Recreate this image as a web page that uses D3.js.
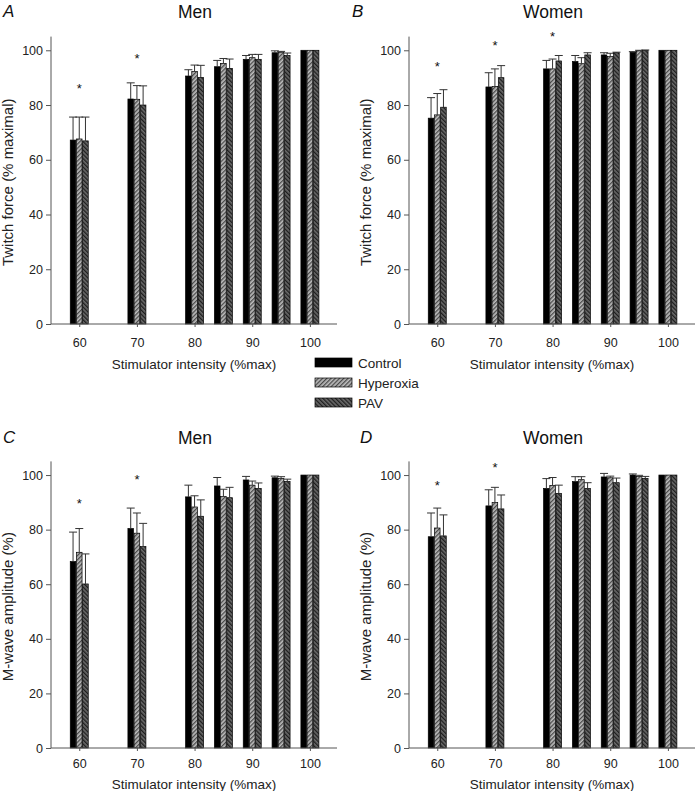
<!DOCTYPE html>
<html>
<head>
<meta charset="utf-8">
<script src="https://cdn.jsdelivr.net/npm/d3@7"></script>
<style>
  html, body { margin: 0; padding: 0; background: #fff; }
  svg { display: block; font-family: "Liberation Sans", Arial, sans-serif; }
</style>
</head>
<body>
<svg id="chart" width="698" height="791"></svg>
<script>
// ---------- DATA ----------
const intensities = [60, 70, 80, 85, 90, 95, 100];
const conditions = ["Control", "Hyperoxia", "PAV"];
const xTickValues = [60, 70, 80, 90, 100];
const yTickValues = [0, 20, 40, 60, 80, 100];

// Panel A: Men, twitch force (% maximal)
const aControl   = [67.2, 82.2, 90.6, 94.0, 96.7, 99.1, 100];
const aControlSD = [8.4, 5.9, 2.3, 2.3, 1.4, 0.7, 0];
const aHyper     = [67.6, 82.1, 92.2, 95.2, 97.3, 99.3, 100];
const aHyperSD   = [8.0, 5.0, 2.4, 1.8, 1.2, 0.3, 0];
const aPAV       = [66.9, 80.0, 90.1, 93.4, 96.7, 98.1, 100];
const aPAVSD     = [8.7, 7.0, 4.4, 3.4, 1.8, 0.9, 0];
const aStarX = [60, 70];
const aStarY = [86.4, 97.3];

// Panel B: Women, twitch force (% maximal)
const bControl   = [75.2, 86.6, 93.2, 95.9, 98.3, 99.3, 100];
const bControlSD = [7.5, 5.2, 3.1, 2.2, 0.8, 0.2, 0];
const bHyper     = [76.4, 86.8, 93.2, 95.1, 97.7, 99.8, 100];
const bHyperSD   = [7.8, 6.4, 3.6, 2.2, 1.2, 0.2, 0];
const bPAV       = [79.2, 90.0, 96.1, 98.3, 99.1, 100, 100];
const bPAVSD     = [6.4, 4.4, 2.0, 0.8, 0.2, 0.1, 0];
const bStarX = [60, 70, 80];
const bStarY = [94.4, 101.9, 105.4];

// Panel C: Men, M-wave amplitude (%)
const cControl   = [68.3, 80.4, 92.0, 96.0, 98.2, 99.0, 100];
const cControlSD = [10.8, 7.5, 4.3, 3.1, 1.3, 0.6, 0];
const cHyper     = [71.7, 78.7, 88.3, 92.1, 96.3, 98.8, 100];
const cHyperSD   = [8.7, 7.4, 4.1, 2.7, 1.5, 0.6, 0];
const cPAV       = [60.1, 73.8, 84.9, 91.7, 95.1, 97.7, 100];
const cPAVSD     = [11.0, 8.5, 6.0, 3.8, 2.0, 0.8, 0];
const cStarX = [60, 70];
const cStarY = [89.6, 98.4];

// Panel D: Women, M-wave amplitude (%)
const dControl   = [77.4, 88.7, 95.1, 97.6, 99.3, 100, 100];
const dControlSD = [8.7, 5.9, 3.6, 1.8, 1.3, 0.4, 0];
const dHyper     = [80.6, 89.9, 96.2, 98.3, 99.0, 99.5, 100];
const dHyperSD   = [7.3, 5.6, 2.9, 1.1, 0.6, 0.4, 0];
const dPAV       = [77.7, 87.6, 93.3, 95.1, 97.2, 98.8, 100];
const dPAVSD     = [7.7, 5.1, 3.0, 2.1, 1.7, 0.7, 0];
const dStarX = [60, 70];
const dStarY = [96.3, 102.8];

// ---------- LAYOUT ----------
const svg = d3.select("#chart");
const defs = svg.append("defs");

function stripePattern(id, bg, fg, angle) {
  const p = defs.append("pattern")
    .attr("id", id).attr("patternUnits", "userSpaceOnUse")
    .attr("width", 3).attr("height", 3)
    .attr("patternTransform", `rotate(${angle})`);
  p.append("rect").attr("width", 3).attr("height", 3).attr("fill", bg);
  p.append("rect").attr("x", 0).attr("width", 1.3).attr("height", 3).attr("fill", fg);
}
stripePattern("hyperPat", "#bdbdbd", "#4a4a4a", 45);
stripePattern("pavPat", "#6a6a6a", "#1e1e1e", -45);

const fills = ["#000", "url(#hyperPat)", "url(#pavPat)"];
const axisColor = "#555";

const panels = [
  { letter: "A", title: "Men",   ylabel: "Twitch force (% maximal)", x0: 51,  x1: 337, yBottom: 324, yTop: 36.6,
    means: [aControl, aHyper, aPAV], sds: [aControlSD, aHyperSD, aPAVSD], starX: aStarX, starY: aStarY,
    letterX: 3, titleY: 18, ylabelX: 13, xTickY: 347, xLabelY: 369 },
  { letter: "B", title: "Women", ylabel: "Twitch force (% maximal)", x0: 409, x1: 695, yBottom: 324, yTop: 36.6,
    means: [bControl, bHyper, bPAV], sds: [bControlSD, bHyperSD, bPAVSD], starX: bStarX, starY: bStarY,
    letterX: 352, titleY: 18, ylabelX: 371, xTickY: 347, xLabelY: 369 },
  { letter: "C", title: "Men",   ylabel: "M-wave amplitude (%)", x0: 51,  x1: 337, yBottom: 748, yTop: 461.4,
    means: [cControl, cHyper, cPAV], sds: [cControlSD, cHyperSD, cPAVSD], starX: cStarX, starY: cStarY,
    letterX: 3, titleY: 444, ylabelX: 13, xTickY: 768, xLabelY: 789 },
  { letter: "D", title: "Women", ylabel: "M-wave amplitude (%)", x0: 409, x1: 695, yBottom: 748, yTop: 461.4,
    means: [dControl, dHyper, dPAV], sds: [dControlSD, dHyperSD, dPAVSD], starX: dStarX, starY: dStarY,
    letterX: 360, titleY: 444, ylabelX: 371, xTickY: 768, xLabelY: 789 }
];

const barW = 5.6, barStep = 6.2, capHalf = 4;

panels.forEach(p => {
  const g = svg.append("g");
  const x = d3.scaleLinear().domain([55.1, 104.7]).range([p.x0, p.x1]);
  const y = d3.scaleLinear().domain([0, 105]).range([p.yBottom, p.yTop]);

  // bars
  conditions.forEach((c, ci) => {
    const off = (ci - 1) * barStep;
    g.append("g").selectAll("rect")
      .data(intensities.map((v, i) => ({ v, m: p.means[ci][i], sd: p.sds[ci][i] })))
      .join("rect")
      .attr("x", d => x(d.v) + off - barW / 2)
      .attr("y", d => y(d.m))
      .attr("width", barW)
      .attr("height", d => y(0) - y(d.m))
      .attr("fill", fills[ci])
      .attr("stroke", "#000")
      .attr("stroke-width", 0.7);

    // error bars
    const eb = g.append("g").attr("stroke", "#333").attr("stroke-width", 1).attr("fill", "none");
    const ed = intensities.map((v, i) => ({ v, m: p.means[ci][i], sd: p.sds[ci][i] })).filter(d => d.sd > 0);
    eb.selectAll("line.v").data(ed).join("line").attr("class", "v")
      .attr("x1", d => x(d.v) + off).attr("x2", d => x(d.v) + off)
      .attr("y1", d => y(d.m)).attr("y2", d => y(d.m + d.sd));
    eb.selectAll("line.c").data(ed).join("line").attr("class", "c")
      .attr("x1", d => x(d.v) + off - capHalf).attr("x2", d => x(d.v) + off + capHalf)
      .attr("y1", d => y(d.m + d.sd)).attr("y2", d => y(d.m + d.sd));
  });

  // asterisks
  g.append("g").selectAll("text")
    .data(p.starX.map((v, i) => ({ v, yv: p.starY[i] })))
    .join("text")
    .attr("x", d => x(d.v)).attr("y", d => y(d.yv) + 5)
    .attr("text-anchor", "middle").attr("font-size", 13).attr("fill", "#111")
    .text("*");

  // y axis
  const yAxis = g.append("g").attr("transform", `translate(${p.x0},0)`)
    .call(d3.axisLeft(y).tickValues(yTickValues).tickSize(5).tickPadding(3));
  // x axis
  const xAxis = g.append("g").attr("transform", `translate(0,${p.yBottom})`)
    .call(d3.axisBottom(x).tickValues(xTickValues).tickSize(3).tickPadding(6));
  [yAxis, xAxis].forEach(a => {
    a.select(".domain").attr("stroke", axisColor).attr("stroke-width", 1);
    a.selectAll(".tick line").attr("stroke", axisColor);
    a.selectAll(".tick text").attr("font-size", 12.5).attr("fill", "#222")
      .attr("font-family", "'Liberation Sans', Arial, sans-serif");
  });
  xAxis.select(".domain").attr("d", `M${p.x0},0H${p.x1}`);
  yAxis.select(".domain").attr("d", `M0,${p.yBottom}V${p.yTop}`);
  xAxis.selectAll(".tick text").attr("y", null).attr("dy", null)
    .attr("transform", `translate(0,${p.xTickY - p.yBottom})`);

  // titles and labels
  svg.append("text").attr("x", p.letterX).attr("y", p.titleY - 1)
    .attr("font-size", 17).attr("font-style", "italic").attr("fill", "#111").text(p.letter);
  svg.append("text").attr("x", (p.x0 + p.x1) / 2 + 1).attr("y", p.titleY)
    .attr("text-anchor", "middle").attr("font-size", 17.5).attr("fill", "#111").text(p.title);
  svg.append("text")
    .attr("transform", `translate(${p.ylabelX},${(p.yBottom + p.yTop) / 2 + 2}) rotate(-90)`)
    .attr("text-anchor", "middle").attr("font-size", 15).attr("fill", "#222").text(p.ylabel);
  svg.append("text").attr("x", (p.x0 + p.x1) / 2).attr("y", p.xLabelY)
    .attr("text-anchor", "middle").attr("font-size", 13.5).attr("fill", "#222")
    .text("Stimulator intensity (%max)");
});

// legend
const legend = svg.append("g");
conditions.forEach((c, i) => {
  legend.append("rect").attr("x", 315).attr("y", 358 + i * 20).attr("width", 37).attr("height", 9)
    .attr("fill", fills[i]).attr("stroke", "#000").attr("stroke-width", 0.7);
  legend.append("text").attr("x", 358).attr("y", 367.5 + i * 20).attr("font-size", 13.5)
    .attr("fill", "#222").text(c);
});
</script>
</body>
</html>
